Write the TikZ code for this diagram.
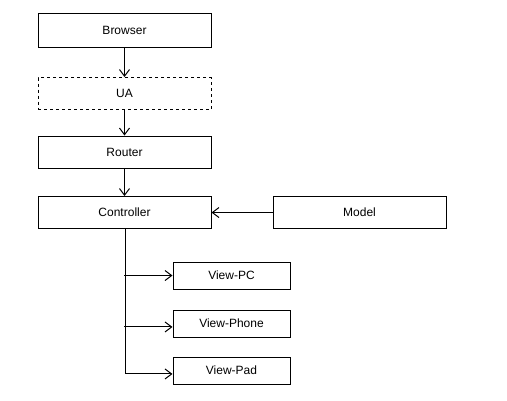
\documentclass[tikz,border=0pt]{standalone}
\usepackage{fontspec}
\setmainfont{Liberation Sans}
\usetikzlibrary{arrows.meta}
\begin{document}
\begin{tikzpicture}[x=0.75pt,y=-0.75pt,
  box/.style={draw=black,line width=0.75pt,fill=white,inner sep=0pt,font=\fontsize{9}{11}\selectfont},
  wide/.style={box,minimum width=129.75pt,minimum height=24pt},
  view/.style={box,minimum width=87.75pt,minimum height=20.25pt},
  conn/.style={draw=black,line width=0.75pt,-{Straight Barb[length=5pt,width=7.5pt]}}]
\useasboundingbox (0,0) rectangle (507,400);
\node[wide,minimum height=25.5pt] (browser) at (124.5,30) {Browser};
\node[wide,dash pattern=on 2.25pt off 2.25pt] (ua) at (124.5,93.5) {UA};
\node[wide] (router) at (124.5,152) {Router};
\node[wide] (ctrl) at (124.5,212.5) {Controller};
\node[wide] (model) at (359.5,212.5) {Model};
\node[view] (vpc) at (231.5,275.5) {View-PC};
\node[view] (vphone) at (231.5,323.5) {View-Phone};
\node[view] (vpad) at (231.5,370.5) {View-Pad};
\coordinate (trunk) at ([xshift=0.75pt]ctrl.south);
\draw[conn] (browser) -- (ua);
\draw[conn] (ua) -- (router);
\draw[conn] (router) -- (ctrl);
\draw[conn] (model) -- (ctrl);
\draw[conn] (trunk) |- ([yshift=-2.6pt]vpad.west);
\draw[conn] ([xshift=-1pt]trunk |- vpc.west) -- (vpc.west);
\draw[conn] ([xshift=-1pt,yshift=-2.6pt]trunk |- vphone.west) -- ([yshift=-2.6pt]vphone.west);
\end{tikzpicture}
\end{document}
